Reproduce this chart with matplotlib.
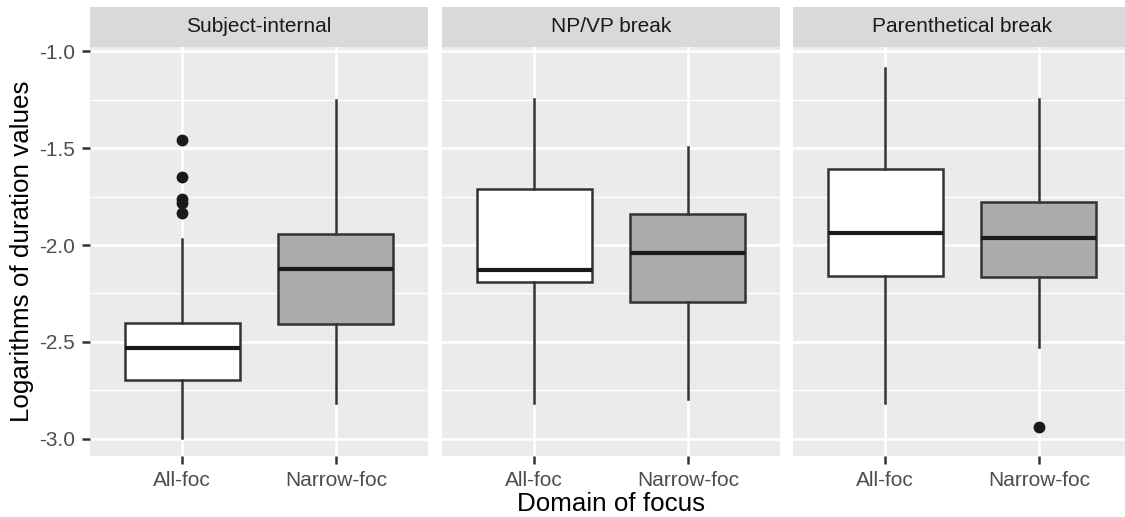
import matplotlib
matplotlib.use("Agg")
import matplotlib.pyplot as plt

plt.rcParams['font.family'] = ['Liberation Sans', 'DejaVu Sans']

# ---- data ----
facets = ["Subject-internal", "NP/VP break", "Parenthetical break"]
groups = ["All-foc", "Narrow-foc"]
q1 = [[-2.696, -2.407], [-2.192, -2.296], [-2.161, -2.163]]
med = [[-2.529, -2.122], [-2.129, -2.040], [-1.937, -1.966]]
q3 = [[-2.400, -1.945], [-1.711, -1.840], [-1.608, -1.777]]
whislo = [[-2.993, -2.816], [-2.813, -2.794], [-2.813, -2.524]]
whishi = [[-1.971, -1.253], [-1.246, -1.493], [-1.089, -1.246]]
outliers = [[[-1.459, -1.648, -1.762, -1.782, -1.837], []],
            [[], []],
            [[], [-2.940]]]
box_fill = ["#FFFFFF", "#ABABAB"]
y_ticks = [-3.0, -2.5, -2.0, -1.5, -1.0]
y_tick_labels = ["-3.0", "-2.5", "-2.0", "-1.5", "-1.0"]
y_minor = [-2.75, -2.25, -1.75, -1.25]

W, H = 1125, 517
fig = plt.figure(figsize=(W / 100, H / 100), dpi=100)
fig.patch.set_facecolor("white")

panel_left = [90, 442, 793]
panel_w = 338
panel_top, panel_bot = 47, 456
strip_top = 7

def fx(px):
    return px / W

def fy(py):
    return 1 - py / H

edge = "#333333"
for i, name in enumerate(facets):
    ax = fig.add_axes([fx(panel_left[i]), fy(panel_bot), fx(panel_w),
                       (panel_bot - panel_top) / H])
    ax.set_facecolor("#EBEBEB")
    for s in ax.spines.values():
        s.set_visible(False)
    ax.set_xlim(0.4, 2.6)
    ax.set_ylim(-3.088, -0.979)
    ax.set_yticks(y_ticks)
    ax.set_yticks(y_minor, minor=True)
    ax.grid(True, which="major", color="white", linewidth=1.8)
    ax.grid(True, which="minor", axis="y", color="white", linewidth=1.0)
    ax.set_axisbelow(True)
    ax.tick_params(axis="both", which="major", length=6, width=1.8,
                   color=edge, labelsize=15, labelcolor="#4D4D4D", pad=5)
    ax.tick_params(axis="y", which="minor", length=0)
    if i == 0:
        ax.set_yticklabels(y_tick_labels)
    else:
        ax.tick_params(axis="y", which="both", left=False, labelleft=False)

    stats = []
    for g in range(2):
        stats.append(dict(med=med[i][g], q1=q1[i][g], q3=q3[i][g],
                          whislo=whislo[i][g], whishi=whishi[i][g],
                          fliers=outliers[i][g], label=groups[g]))
    bp = ax.bxp(stats, positions=[1, 2], widths=0.75, patch_artist=True,
                showcaps=False,
                boxprops=dict(edgecolor=edge, linewidth=1.8),
                whiskerprops=dict(color=edge, linewidth=1.8),
                medianprops=dict(color="#1A1A1A", linewidth=3.0),
                flierprops=dict(marker="o", markerfacecolor="#1A1A1A",
                                markeredgecolor="#1A1A1A", markersize=7.5))
    for patch, c in zip(bp["boxes"], box_fill):
        patch.set_facecolor(c)
    ax.set_xticks([1, 2])
    ax.set_xticklabels(groups)

    # strip
    sax = fig.add_axes([fx(panel_left[i]), fy(panel_top), fx(panel_w),
                        (panel_top - strip_top) / H])
    sax.set_facecolor("#D9D9D9")
    for s in sax.spines.values():
        s.set_visible(False)
    sax.set_xticks([])
    sax.set_yticks([])
    sax.text(0.5, 0.5, name, ha="center", va="center", fontsize=15,
             color="#1A1A1A", transform=sax.transAxes)

fig.text(fx(22), fy(251), "Logarithms of duration values", rotation=90,
         ha="center", va="center", fontsize=18.7, color="black")
fig.text(fx(611.5), fy(504), "Domain of focus", ha="center", va="center",
         fontsize=18.7, color="black")

fig.savefig("out.png", dpi=100, facecolor="white")
